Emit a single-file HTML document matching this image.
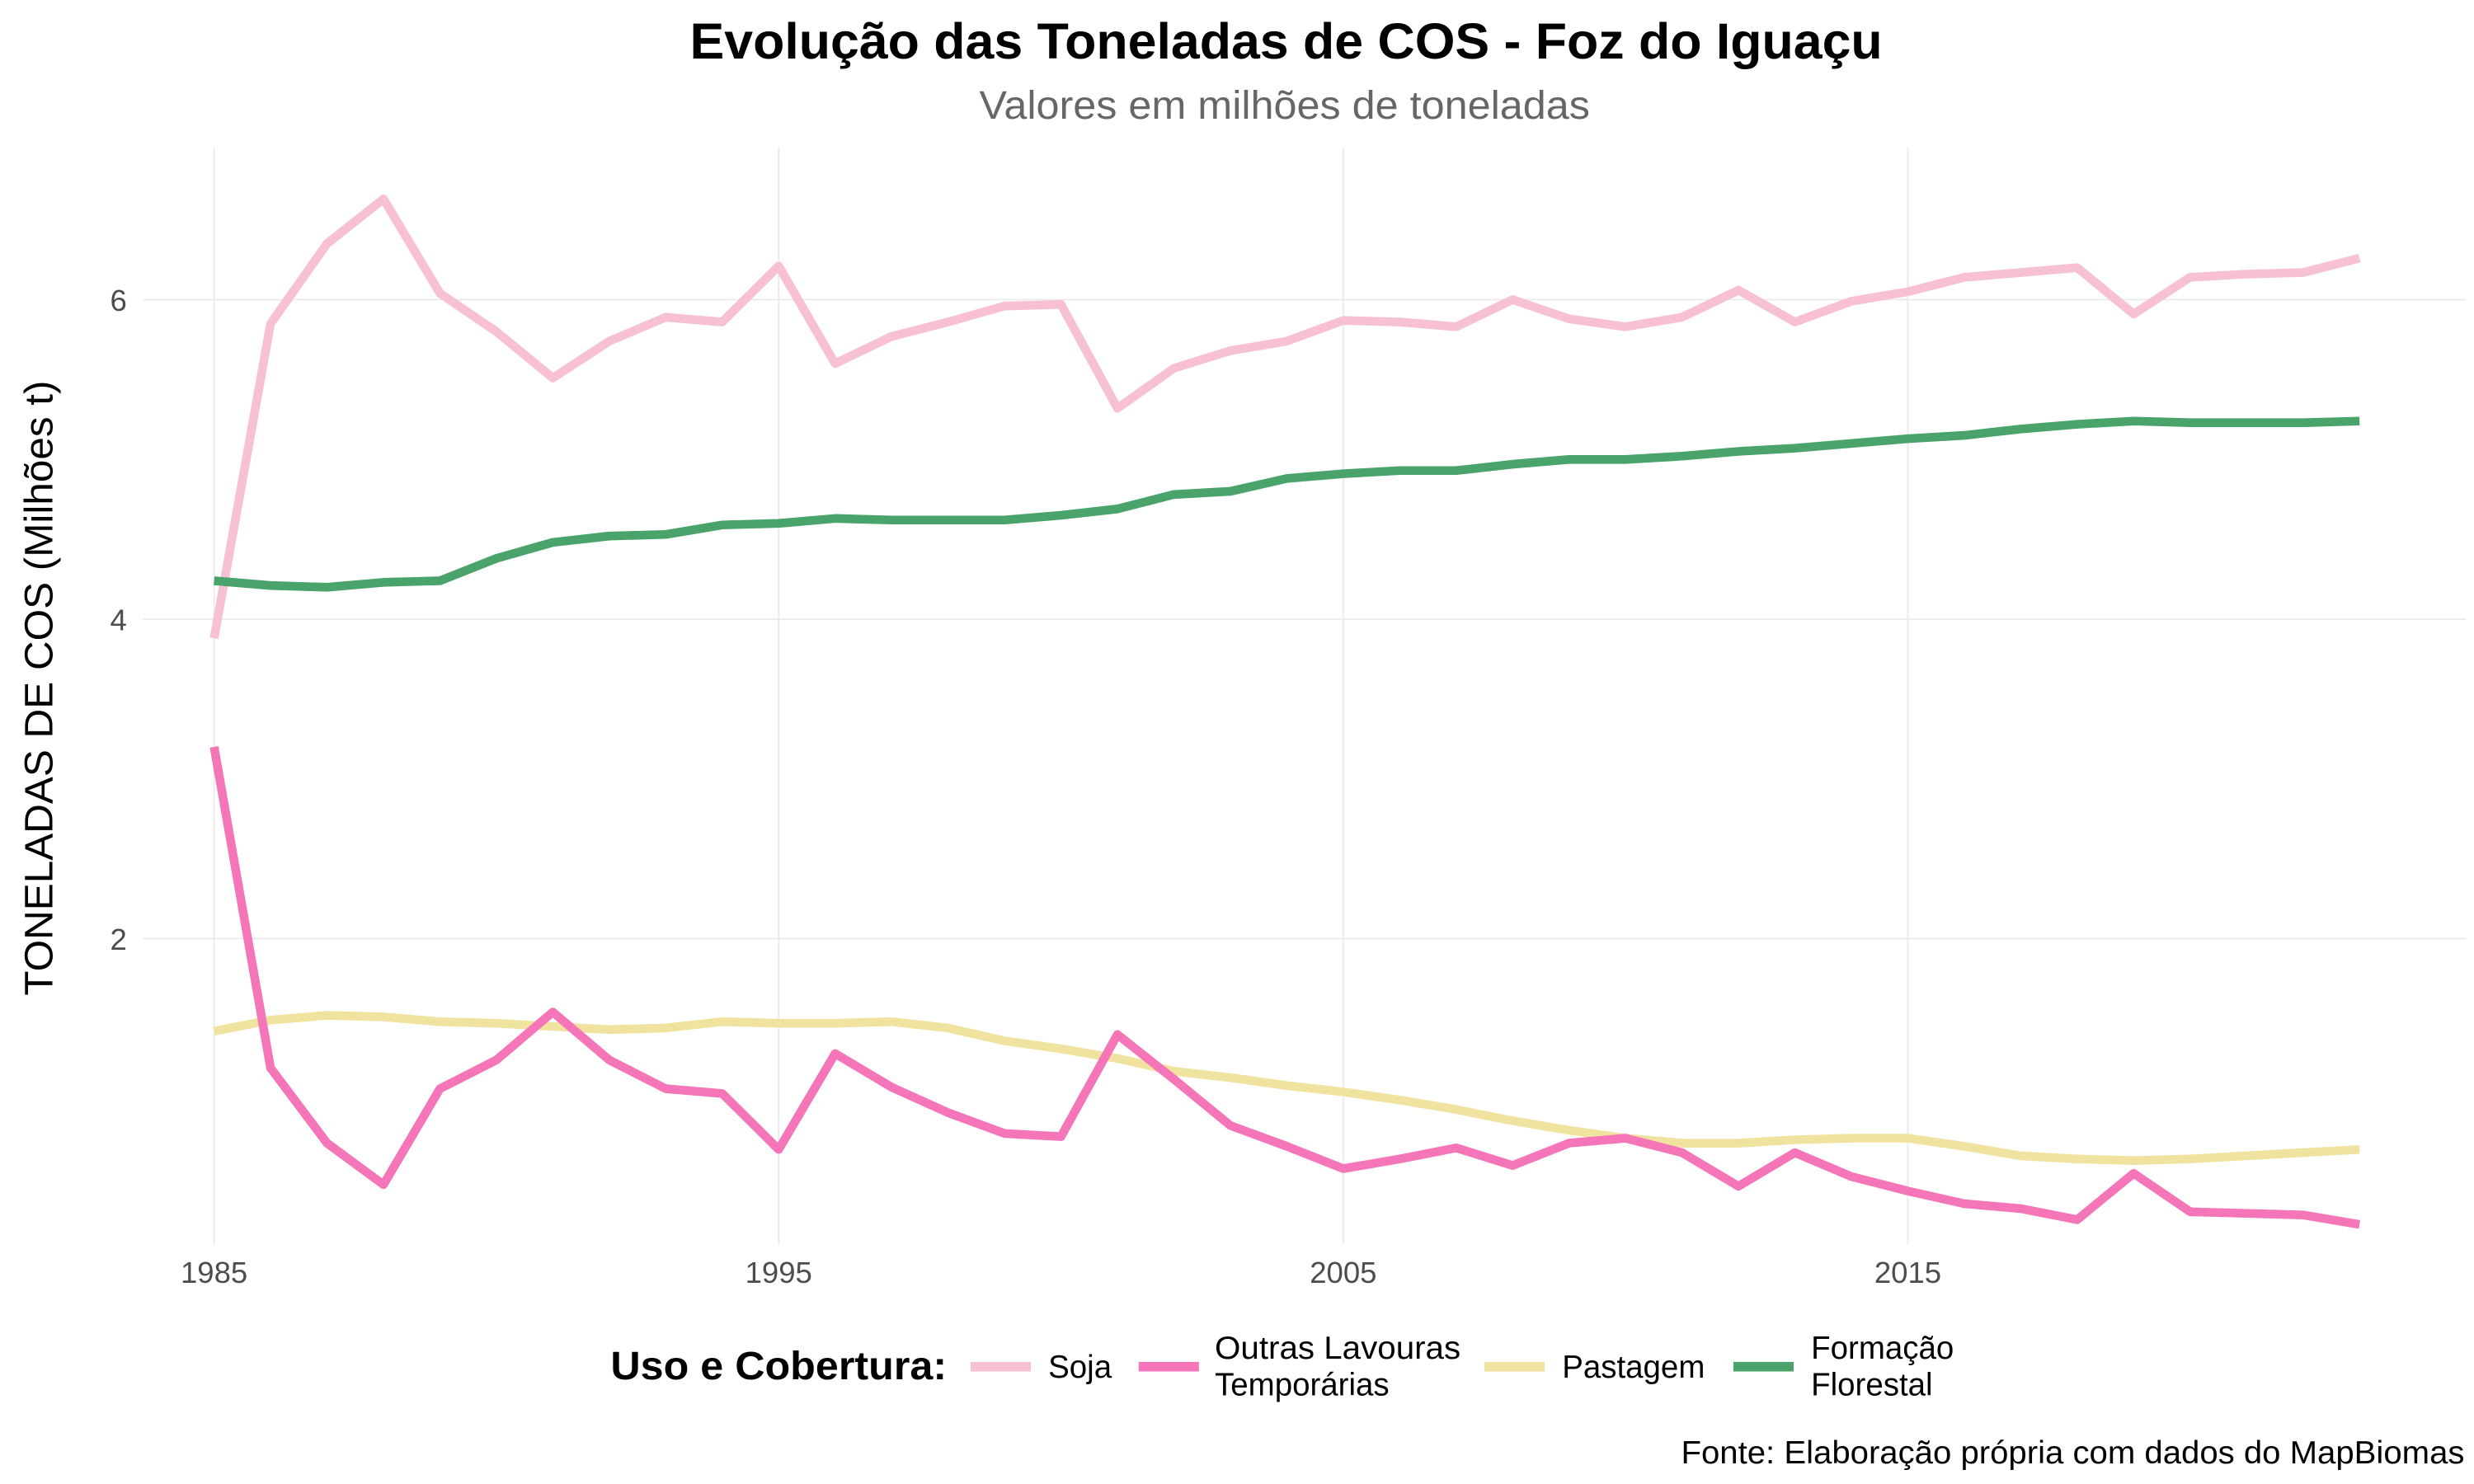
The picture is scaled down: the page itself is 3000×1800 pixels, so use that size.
<!DOCTYPE html>
<html><head><meta charset="utf-8"><style>
html,body{margin:0;padding:0;background:#fff;}
svg{display:block;font-family:"Liberation Sans",Arial,sans-serif;}
</style></head><body>
<svg id="chart" width="3000" height="1800" viewBox="0 0 1560 936" xmlns="http://www.w3.org/2000/svg">
<rect width="1560" height="936" fill="#fff"/>
<text x="811" y="37" text-anchor="middle" font-size="32" font-weight="bold" fill="#000" textLength="752" lengthAdjust="spacingAndGlyphs">Evolução das Toneladas de COS - Foz do Iguaçu</text>
<text x="810" y="75" text-anchor="middle" font-size="25" fill="#666" textLength="385" lengthAdjust="spacingAndGlyphs">Valores em milhões de toneladas</text>
<g id="grid"></g>
<g id="series"></g>
<g id="axes"></g>
<text transform="translate(33,434) rotate(-90)" text-anchor="middle" font-size="25" fill="#000" textLength="388" lengthAdjust="spacingAndGlyphs">TONELADAS DE COS (Milhões t)</text>
<g>
<text x="385" y="870" font-size="25" font-weight="bold" textLength="212" lengthAdjust="spacingAndGlyphs">Uso e Cobertura:</text>
<line x1="612" y1="862" x2="650" y2="862" stroke="#f7c0d4" stroke-width="6"/>
<text x="661" y="869" font-size="20">Soja</text>
<line x1="718" y1="862" x2="756" y2="862" stroke="#f575b9" stroke-width="6"/>
<text x="766" y="857" font-size="20" textLength="155" lengthAdjust="spacingAndGlyphs">Outras Lavouras</text>
<text x="766" y="880" font-size="20">Temporárias</text>
<line x1="936" y1="862" x2="974" y2="862" stroke="#f0e3a0" stroke-width="6"/>
<text x="985" y="869" font-size="20">Pastagem</text>
<line x1="1093" y1="862" x2="1131" y2="862" stroke="#4aa36a" stroke-width="6"/>
<text x="1142" y="857" font-size="20">Formação</text>
<text x="1142" y="880" font-size="20">Florestal</text>
</g>
<text x="1554" y="923" text-anchor="end" font-size="20" textLength="494" lengthAdjust="spacingAndGlyphs">Fonte: Elaboração própria com dados do MapBiomas</text>
</svg>
<script>
const years = [];
for (let y = 1985; y <= 2023; y++) years.push(y);
const soja = [3.88,5.85,6.35,6.63,6.04,5.80,5.51,5.74,5.89,5.86,6.21,5.60,5.77,5.86,5.96,5.97,5.32,5.57,5.68,5.74,5.87,5.86,5.83,6.00,5.88,5.83,5.89,6.06,5.86,5.99,6.05,6.14,6.17,6.20,5.91,6.14,6.16,6.17,6.26];
const outras = [3.20,1.19,0.72,0.46,1.06,1.24,1.54,1.24,1.06,1.03,0.68,1.28,1.07,0.91,0.78,0.76,1.40,1.12,0.83,0.70,0.56,0.62,0.69,0.58,0.72,0.75,0.66,0.45,0.66,0.51,0.42,0.34,0.31,0.24,0.53,0.29,0.28,0.27,0.21];
const pastagem = [1.42,1.49,1.52,1.51,1.48,1.47,1.45,1.43,1.44,1.48,1.47,1.47,1.48,1.44,1.36,1.31,1.25,1.17,1.13,1.08,1.04,0.99,0.93,0.86,0.80,0.75,0.72,0.72,0.74,0.75,0.75,0.70,0.64,0.62,0.61,0.62,0.64,0.66,0.68];
const floresta = [4.24,4.21,4.20,4.23,4.24,4.38,4.48,4.52,4.53,4.59,4.60,4.63,4.62,4.62,4.62,4.65,4.69,4.78,4.80,4.88,4.91,4.93,4.93,4.97,5.00,5.00,5.02,5.05,5.07,5.10,5.13,5.15,5.19,5.22,5.24,5.23,5.23,5.23,5.24];
const xTicks = [1985,1995,2005,2015];
const yTicks = [2,4,6];

const NS = "http://www.w3.org/2000/svg";
const X = v => 135 + (v - 1985) * 35.6;
const Y = v => 189 + (6 - v) * 100.75;
const PL = 90, PR = 1555, PT = 93, PB = 785;
const grid = document.getElementById('grid'), axes = document.getElementById('axes'), ser = document.getElementById('series');
function mk(tag, attrs, parent){ const e = document.createElementNS(NS, tag); for (const k in attrs) e.setAttribute(k, attrs[k]); parent.appendChild(e); return e; }
xTicks.forEach(t => {
  const l = mk('line', {x1:X(t), x2:X(t), y1:PT, y2:PB, stroke:'#ebebeb', 'stroke-width':1}, grid);
  
  
  const tx = mk('text', {x:X(t), y:809, 'text-anchor':'middle', 'font-size':19, fill:'#4d4d4d'}, axes);
  
  
  tx.textContent = t;
});
yTicks.forEach(t => {
  const l = mk('line', {x1:PL, x2:PR, y1:Y(t), y2:Y(t), stroke:'#ebebeb', 'stroke-width':1}, grid);
  
  
  const tx = mk('text', {x:80, y:Y(t)+7, 'text-anchor':'end', 'font-size':19, fill:'#4d4d4d'}, axes);
  
  
  tx.textContent = t;
});
const series = [['soja',soja,'#f7c0d4'],['pastagem',pastagem,'#f0e3a0'],['outras-lavouras',outras,'#f575b9'],['formacao-florestal',floresta,'#4aa36a']];
series.forEach(([n, vals, c]) => {
  const d = vals.map((v,i) => (i?'L':'M') + X(years[i]).toFixed(1) + ',' + Y(v).toFixed(1)).join(' ');
  const p = mk('path', {d:d, fill:'none', stroke:c, 'stroke-width':5.5, 'stroke-linejoin':'round'}, ser);
  
  
});
</script>
</body></html>
